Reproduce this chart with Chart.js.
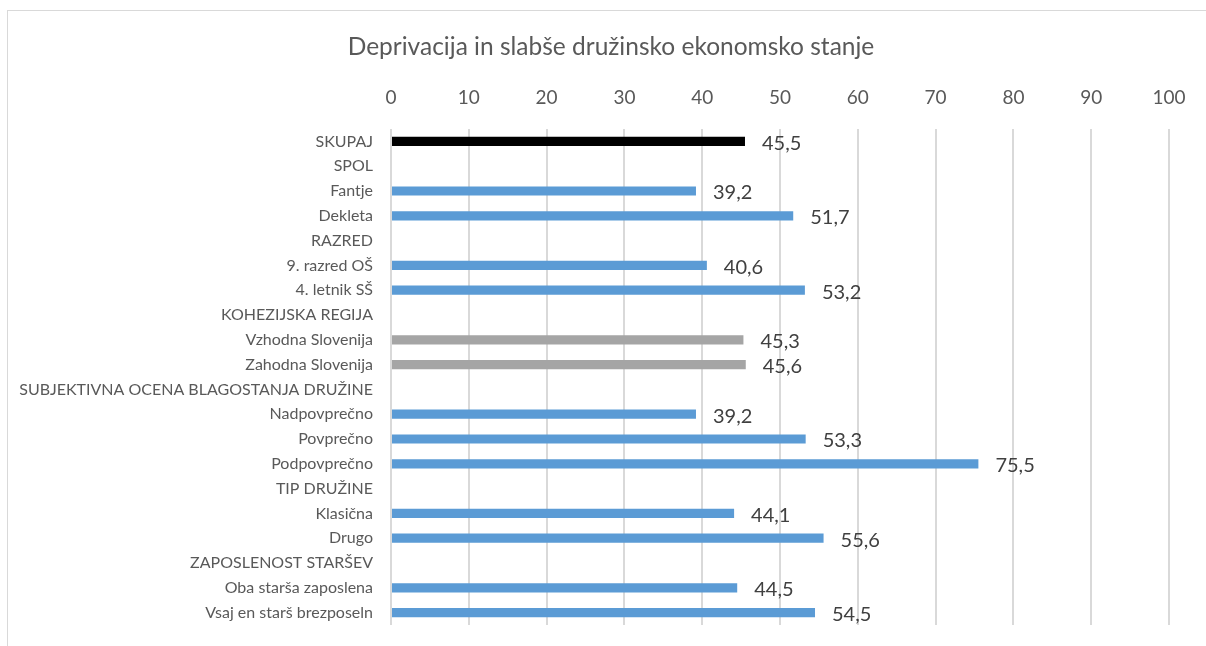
<!DOCTYPE html>
<html>
<head>
<meta charset="utf-8">
<script src="https://cdn.jsdelivr.net/npm/chart.js@4"></script>
<style>
  html, body { margin: 0; padding: 0; background: #fff; }
  #wrap { position: relative; width: 1206px; height: 646px; overflow: hidden; }
  #frame { position: absolute; left: 7px; top: 10px; width: 1300px; height: 700px; border: 1px solid #d9d9d9; }
  canvas { position: absolute; left: 0; top: 0; }
</style>
</head>
<body>
<div id="wrap">
  <div id="frame"></div>
  <canvas id="chart" width="1206" height="646"></canvas>
</div>
<script>
var categories = [
  "SKUPAJ", "SPOL", "Fantje", "Dekleta", "RAZRED", "9. razred OŠ", "4. letnik SŠ",
  "KOHEZIJSKA REGIJA", "Vzhodna Slovenija", "Zahodna Slovenija",
  "SUBJEKTIVNA OCENA BLAGOSTANJA DRUŽINE", "Nadpovprečno", "Povprečno", "Podpovprečno",
  "TIP DRUŽINE", "Klasična", "Drugo", "ZAPOSLENOST STARŠEV",
  "Oba starša zaposlena", "Vsaj en starš brezposeln"
]
// header rows have no value
var values = [
  45.5, null, 39.2, 51.7, null, 40.6, 53.2,
  null, 45.3, 45.6,
  null, 39.2, 53.3, 75.5,
  null, 44.1, 55.6, null,
  44.5, 54.5
]
var xTicks = [0, 10, 20, 30, 40, 50, 60, 70, 80, 90, 100]

var blue = "#5b9bd5"
var colors = categories.map(function (c, i) {
  if (i == 0) return "#000000"
  if (c.indexOf("Slovenija") > -1) return "#a5a5a5"
  return blue
})

var font = "Lato, 'Open Sans', sans-serif"

// writes the value next to each bar, with a decimal comma
var valueLabels = {
  id: "valueLabels",
  afterDatasetsDraw: function (chart) {
    var ctx = chart.ctx
    var meta = chart.getDatasetMeta(0)
    ctx.save()
    ctx.font = "20px " + font
    ctx.fillStyle = "#404040"
    ctx.textAlign = "left"
    ctx.textBaseline = "middle"
    meta.data.forEach(function (bar, i) {
      var v = values[i]
      if (v == null) return
      ctx.fillText(v.toFixed(1).replace(".", ","), bar.x + 17, bar.y + 2)
    })
    ctx.restore()
  }
}

var ctx = document.getElementById("chart").getContext("2d")
var chart = new Chart(ctx, {
  type: "bar",
  data: {
    labels: categories,
    datasets: [{
      data: values,
      backgroundColor: colors,
      barPercentage: 0.37,
      categoryPercentage: 1
    }]
  },
  options: {
    indexAxis: "y",
    responsive: false,
    animation: false,
    layout: { padding: { left: 16, right: 0, top: 0, bottom: 21 } },
    plugins: {
      legend: { display: false },
      tooltip: { enabled: false },
      title: {
        display: true,
        text: "Deprivacija in slabše družinsko ekonomsko stanje",
        color: "#595959",
        font: { family: font, size: 24.5, weight: "normal" },
        padding: { top: 32, bottom: 0 }
      }
    },
    scales: {
      x: {
        position: "top",
        min: 0,
        max: 100,
        afterBuildTicks: function (axis) {
          axis.ticks = xTicks.map(function (v) { return { value: v } })
        },
        afterFit: function (axis) { axis.height = 67.6 },
        border: { display: false },
        grid: { color: "#d9d9d9", lineWidth: 2, drawTicks: false },
        ticks: { color: "#595959", padding: 20, font: { family: font, size: 19 } }
      },
      y: {
        afterFit: function (axis) { axis.width = 375 },
        border: { display: false },
        // invisible tick marks keep the labels away from the axis
        grid: { display: true, drawOnChartArea: false, drawTicks: true, tickLength: 18, color: "rgba(0,0,0,0)" },
        ticks: { color: "#595959", padding: 0, autoSkip: false, font: { family: font, size: 16 } }
      },
      // empty strip on the right, leaves room after the last gridline
      yRight: {
        axis: "y",
        position: "right",
        afterFit: function (axis) { axis.width = 37 },
        border: { display: false },
        grid: { display: false },
        ticks: { display: false }
      }
    }
  },
  plugins: [valueLabels]
})
</script>
</body>
</html>
